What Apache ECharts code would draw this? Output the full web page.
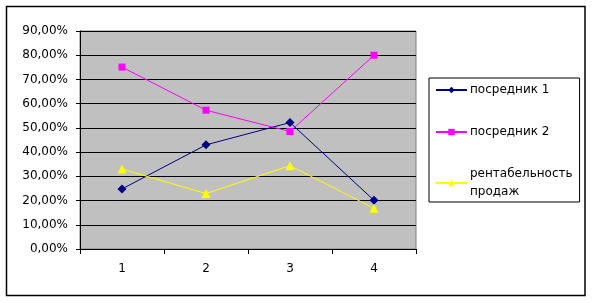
<!DOCTYPE html>
<html>
<head>
<meta charset="utf-8">
<script src="https://cdn.jsdelivr.net/npm/echarts@6/dist/echarts.min.js"></script>
<style>
html,body{margin:0;padding:0;background:#fff;}
#c{width:593px;height:303px;}
</style>
</head>
<body>
<div id="c"></div>
<script>
const categories = ['1', '2', '3', '4'];
const posrednik1 = [0.248, 0.43, 0.522, 0.201];
const posrednik2 = [0.751, 0.573, 0.485, 0.80];
const rentabelnost = [0.33, 0.229, 0.344, 0.168];
const seriesNames = ['посредник 1', 'посредник 2', 'рентабельность\nпродаж'];

const font = 'DejaVu Sans';
const chart = echarts.init(document.getElementById('c'), null, {renderer: 'canvas'});

function mk(name, data, color, symbol, size) {
  return {
    name: name,
    type: 'line',
    data: data,
    symbol: symbol,
    symbolSize: size,
    showSymbol: true,
    lineStyle: {color: color, width: 1},
    itemStyle: {color: color},
    emphasis: {disabled: true},
    animation: false
  };
}

chart.setOption({
  animation: false,
  textStyle: {fontFamily: font},
  graphic: [{
    type: 'rect',
    shape: {x: 6.5, y: 6.5, width: 578.5, height: 289},
    style: {fill: 'none', stroke: '#000', lineWidth: 1.5},
    z: -1
  }],
  grid: {
    left: 80, top: 31, width: 336, height: 218,
    show: true,
    backgroundColor: '#c0c0c0',
    borderColor: '#808080',
    borderWidth: 1
  },
  legend: {
    orient: 'vertical',
    left: 429,
    top: 78,
    padding: [3, 7, 1, 6],
    itemGap: 24,
    itemWidth: 31,
    itemHeight: 8,
    borderColor: '#000',
    borderWidth: 1,
    backgroundColor: '#fff',
    selectedMode: false,
    data: seriesNames,
    textStyle: {fontFamily: font, fontSize: 12, color: '#000', lineHeight: 18, padding: [0, 0, 0, -2]}
  },
  xAxis: {
    type: 'category',
    data: categories,
    boundaryGap: true,
    axisLine: {lineStyle: {color: '#000', width: 1}},
    axisTick: {show: true, length: 5, lineStyle: {color: '#000'}},
    axisLabel: {color: '#000', fontFamily: font, fontSize: 12, margin: 14},
    splitLine: {show: false}
  },
  yAxis: {
    type: 'value',
    min: 0,
    max: 0.9,
    interval: 0.1,
    axisLine: {show: true, lineStyle: {color: '#000', width: 1}},
    axisTick: {show: true, length: 4, lineStyle: {color: '#000'}},
    axisLabel: {
      color: '#000', fontFamily: font, fontSize: 12, margin: 12,
      formatter: function (v) { return (v * 100).toFixed(2).replace('.', ',') + '%'; }
    },
    splitLine: {show: true, lineStyle: {color: '#000', width: 1}}
  },
  series: [
    mk(seriesNames[0], posrednik1, '#000080', 'diamond', 9),
    mk(seriesNames[1], posrednik2, '#ff00ff', 'rect', 7),
    mk(seriesNames[2], rentabelnost, '#ffff00', 'triangle', 9)
  ]
});
</script>
</body>
</html>
